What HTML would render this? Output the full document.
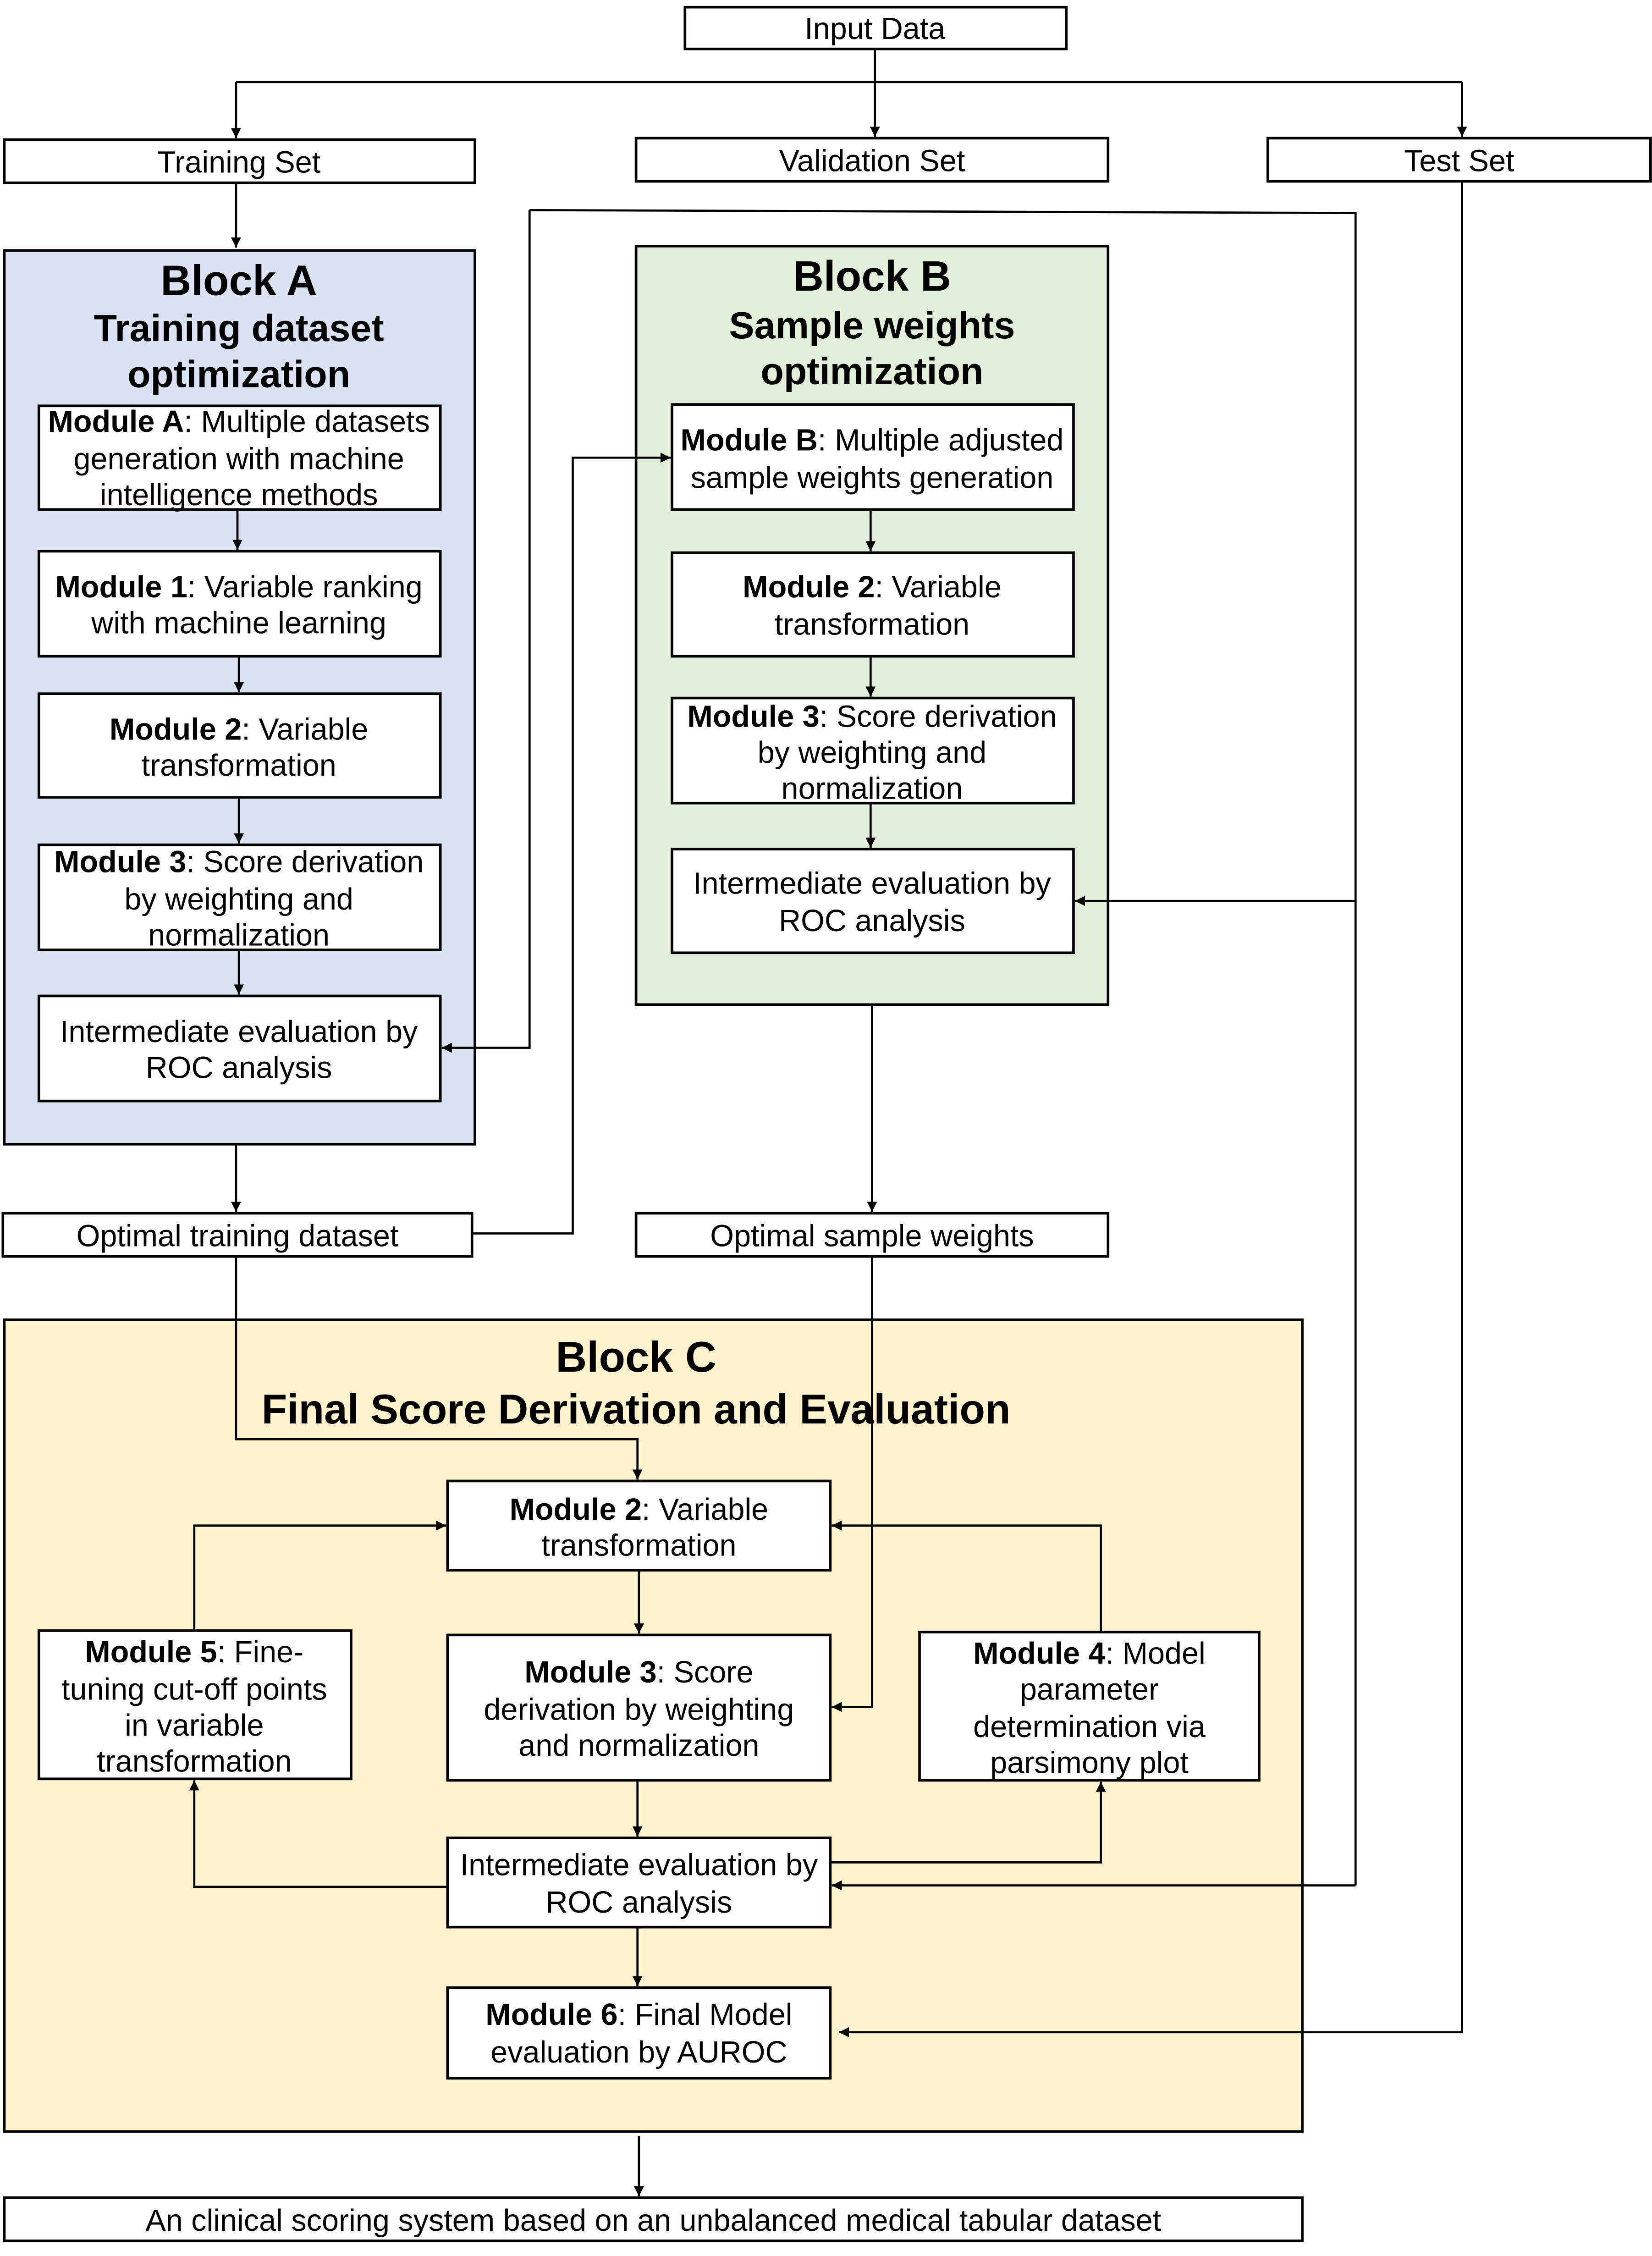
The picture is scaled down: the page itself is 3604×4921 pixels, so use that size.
<!DOCTYPE html>
<html><head><meta charset="utf-8"><style>
html,body{margin:0;padding:0;background:#fff;}
svg{display:block;}
text{font-family:"Liberation Sans",Arial,sans-serif;fill:#000;}
</style></head><body>
<svg width="3604" height="4921" viewBox="0 0 1148 1567.5" preserveAspectRatio="none" xmlns="http://www.w3.org/2000/svg">
<defs>
<marker id="a" viewBox="0 0 10 10" refX="10" refY="5" markerWidth="7" markerHeight="7" orient="auto" markerUnits="userSpaceOnUse"><path d="M0,0 L10,5 L0,10 z" fill="#000"/></marker>
</defs>
<g stroke="#000" stroke-width="1.8">
<rect x="3" y="174" width="327" height="621" fill="#dae3f3"/>
<rect x="442" y="171" width="328" height="527" fill="#e2efda"/>
<rect x="3" y="917" width="902" height="564" fill="#fff2cc"/>
<rect x="476" y="5" width="265" height="29" fill="#fff"/>
<rect x="3" y="97" width="327" height="30" fill="#fff"/>
<rect x="442" y="96" width="328" height="30" fill="#fff"/>
<rect x="881" y="96" width="266" height="30" fill="#fff"/>
<rect x="27" y="282" width="279" height="72" fill="#fff"/>
<rect x="27" y="383" width="279" height="73" fill="#fff"/>
<rect x="27" y="482" width="279" height="72" fill="#fff"/>
<rect x="27" y="587" width="279" height="73" fill="#fff"/>
<rect x="27" y="692" width="279" height="73" fill="#fff"/>
<rect x="467" y="281" width="279" height="73" fill="#fff"/>
<rect x="467" y="384" width="279" height="72" fill="#fff"/>
<rect x="467" y="485" width="279" height="73" fill="#fff"/>
<rect x="467" y="590" width="279" height="72" fill="#fff"/>
<rect x="2" y="843" width="326" height="30" fill="#fff"/>
<rect x="442" y="843" width="328" height="30" fill="#fff"/>
<rect x="311" y="1029" width="266" height="62" fill="#fff"/>
<rect x="311" y="1136" width="266" height="101" fill="#fff"/>
<rect x="27" y="1133" width="217" height="103" fill="#fff"/>
<rect x="639" y="1134" width="236" height="103" fill="#fff"/>
<rect x="311" y="1277" width="266" height="62" fill="#fff"/>
<rect x="311" y="1381" width="266" height="63" fill="#fff"/>
<rect x="3" y="1527" width="902" height="30" fill="#fff"/>
</g>
<g stroke="#000" stroke-width="1.5" fill="none" marker-end="url(#a)">
<line x1="608" y1="34" x2="608" y2="95"/>
<polyline points="164,57 164,96" />
<polyline points="1016,57 1016,95"/>
<line x1="164" y1="127" x2="164" y2="172"/>
<line x1="165" y1="354" x2="165" y2="382"/>
<line x1="166" y1="456" x2="166" y2="481"/>
<line x1="166" y1="554" x2="166" y2="586"/>
<line x1="166" y1="660" x2="166" y2="691"/>
<line x1="605" y1="354" x2="605" y2="383"/>
<line x1="605" y1="456" x2="605" y2="484"/>
<line x1="605" y1="558" x2="605" y2="589"/>
<polyline points="368,146 368,728 307,728"/>
<polyline points="942,626 747,626"/>
<polyline points="942,1310 578,1310"/>
<line x1="164" y1="795" x2="164" y2="842"/>
<line x1="606" y1="698" x2="606" y2="842"/>
<polyline points="328,857 398,857 398,318 466,318"/>
<polyline points="164,873 164,1000 443,1000 443,1028"/>
<polyline points="606,873 606,1186 578,1186"/>
<polyline points="135,1133 135,1060 310,1060"/>
<polyline points="765,1134 765,1060 578,1060"/>
<polyline points="311,1311 135,1311 135,1237"/>
<polyline points="577,1294 765,1294 765,1238"/>
<polyline points="1016,126 1016,1412 583,1412"/>
<line x1="444" y1="1091" x2="444" y2="1135"/>
<line x1="443" y1="1237" x2="443" y2="1276"/>
<line x1="443" y1="1339" x2="443" y2="1380"/>
<line x1="444" y1="1484" x2="444" y2="1526"/>
</g>
<g stroke="#000" stroke-width="1.5" fill="none">
<line x1="164" y1="57" x2="1016" y2="57"/>
<polyline points="368,146 942,148 942,1310"/>
</g>
<g font-size="21.2" text-anchor="middle">
<text x="608" y="27">Input Data</text>
<text x="166" y="120">Training Set</text>
<text x="606" y="119">Validation Set</text>
<text x="1014" y="119">Test Set</text>
<text x="166" y="205" font-size="29.5" font-weight="bold">Block A</text>
<text x="166" y="237" font-size="26.3" font-weight="bold">Training dataset</text>
<text x="166" y="269" font-size="26.3" font-weight="bold">optimization</text>
<text x="606" y="202" font-size="29.5" font-weight="bold">Block B</text>
<text x="606" y="235" font-size="26.3" font-weight="bold">Sample weights</text>
<text x="606" y="267" font-size="26.3" font-weight="bold">optimization</text>
<text x="166" y="300"><tspan font-weight="bold">Module A</tspan>: Multiple datasets</text>
<text x="166" y="326">generation with machine</text>
<text x="166" y="351">intelligence methods</text>
<text x="166" y="415"><tspan font-weight="bold">Module 1</tspan>: Variable ranking</text>
<text x="166" y="440">with machine learning</text>
<text x="166" y="514"><tspan font-weight="bold">Module 2</tspan>: Variable</text>
<text x="166" y="539">transformation</text>
<text x="166" y="606"><tspan font-weight="bold">Module 3</tspan>: Score derivation</text>
<text x="166" y="632">by weighting and</text>
<text x="166" y="657">normalization</text>
<text x="166" y="724">Intermediate evaluation by</text>
<text x="166" y="749">ROC analysis</text>
<text x="606" y="313"><tspan font-weight="bold">Module B</tspan>: Multiple adjusted</text>
<text x="606" y="339">sample weights generation</text>
<text x="606" y="415"><tspan font-weight="bold">Module 2</tspan>: Variable</text>
<text x="606" y="441">transformation</text>
<text x="606" y="505"><tspan font-weight="bold">Module 3</tspan>: Score derivation</text>
<text x="606" y="530">by weighting and</text>
<text x="606" y="555">normalization</text>
<text x="606" y="621">Intermediate evaluation by</text>
<text x="606" y="647">ROC analysis</text>
<text x="165" y="866">Optimal training dataset</text>
<text x="606" y="866">Optimal sample weights</text>
<text x="442" y="953" font-size="30" font-weight="bold">Block C</text>
<text x="442" y="989" font-size="29" font-weight="bold">Final Score Derivation and Evaluation</text>
<text x="444" y="1056"><tspan font-weight="bold">Module 2</tspan>: Variable</text>
<text x="444" y="1081">transformation</text>
<text x="444" y="1169"><tspan font-weight="bold">Module 3</tspan>: Score</text>
<text x="444" y="1195">derivation by weighting</text>
<text x="444" y="1220">and normalization</text>
<text x="135" y="1155"><tspan font-weight="bold">Module 5</tspan>: Fine-</text>
<text x="135" y="1181">tuning cut-off points</text>
<text x="135" y="1206">in variable</text>
<text x="135" y="1231">transformation</text>
<text x="757" y="1156"><tspan font-weight="bold">Module 4</tspan>: Model</text>
<text x="757" y="1181">parameter</text>
<text x="757" y="1207">determination via</text>
<text x="757" y="1232">parsimony plot</text>
<text x="444" y="1303">Intermediate evaluation by</text>
<text x="444" y="1329">ROC analysis</text>
<text x="444" y="1407"><tspan font-weight="bold">Module 6</tspan>: Final Model</text>
<text x="444" y="1433">evaluation by AUROC</text>
<text x="454" y="1550">An clinical scoring system based on an unbalanced medical tabular dataset</text>
</g>
</svg>
</body></html>
